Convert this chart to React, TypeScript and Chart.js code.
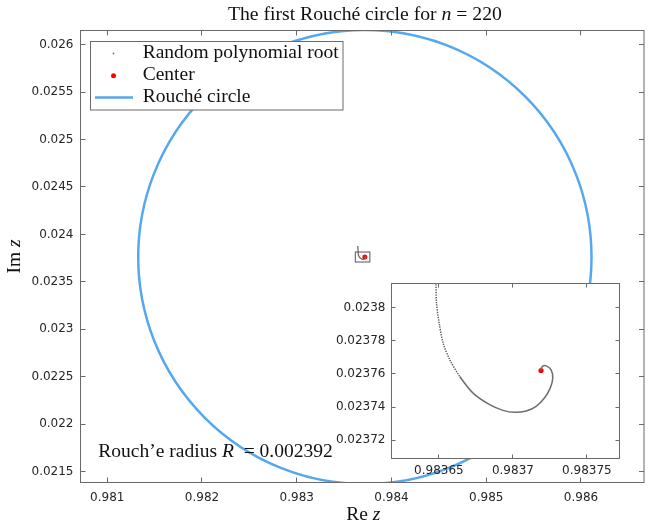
import React, { useEffect, useRef } from 'react';
import { Chart, registerables } from 'chart.js';

Chart.register(...registerables);

// ---- data ----
const rootRe = [
  0.983644, 0.983646, 0.983647, 0.983648, 0.9836484, 0.9836502, 0.9836529, 0.9836574,
  0.9836641, 0.9836731, 0.9836843, 0.9836933, 0.9837011, 0.983709, 0.9837157, 0.9837213,
  0.9837252, 0.9837269, 0.9837258, 0.9837225, 0.9837198, 0.9837186,
];
const rootIm = [
  0.023877, 0.02385, 0.02383, 0.023814, 0.0238025, 0.0237905, 0.0237784, 0.0237684,
  0.0237584, 0.0237484, 0.0237414, 0.023738, 0.0237368, 0.0237376, 0.0237404, 0.0237454,
  0.0237514, 0.0237574, 0.0237624, 0.0237648, 0.0237644, 0.0237624,
];
const sparseRootCount = 8; // the first roots are spaced apart (dotted look)
const centerRe = [0.983719];
const centerIm = [0.023762];
const roucheRadius = [0.002392];

const mainXRange = [0.980718, 0.986665];
const mainYRange = [0.021386, 0.026148];
const mainXTicks = [0.981, 0.982, 0.983, 0.984, 0.985, 0.986];
const mainXTickLabels = ['0.981', '0.982', '0.983', '0.984', '0.985', '0.986'];
const mainYTicks = [0.0215, 0.022, 0.0225, 0.023, 0.0235, 0.024, 0.0245, 0.025, 0.0255, 0.026];
const mainYTickLabels = ['0.0215', '0.022', '0.0225', '0.023', '0.0235', '0.024', '0.0245', '0.025', '0.0255', '0.026'];

const insetXRange = [0.983618, 0.983772];
const insetYRange = [0.023709, 0.0238144];
const insetXTicks = [0.98365, 0.9837, 0.98375];
const insetXTickLabels = ['0.98365', '0.9837', '0.98375'];
const insetYTicks = [0.02372, 0.02374, 0.02376, 0.02378, 0.0238];
const insetYTickLabels = ['0.02372', '0.02374', '0.02376', '0.02378', '0.0238'];

const legendLabels = ['Random polynomial root', 'Center', 'Rouché circle'];
const titleText = ['The first Rouché circle for ', 'n', ' = 220'];
const radiusText = ['Rouch’e radius ', 'R', '  = 0.002392'];

// ---- styles ----
const SERIF = '"Liberation Serif", "DejaVu Serif", serif';
const SANS = '"DejaVu Sans", sans-serif';
const AXIS = '#6a6a6a';
const TICKTEXT = '#262626';
const BLUE = '#55a7ee';
const ROOT = '#6e6e6e';
const RED = '#ff0000';

type Seg = { t: string; italic?: boolean };

function richWidth(ctx: CanvasRenderingContext2D, segs: Seg[], size: number) {
  let w = 0;
  for (const s of segs) {
    ctx.font = `${s.italic ? 'italic ' : ''}${size}px ${SERIF}`;
    w += ctx.measureText(s.t).width;
  }
  return w;
}
function fitSize(ctx: CanvasRenderingContext2D, segs: Seg[], target: number) {
  return (20 * target) / richWidth(ctx, segs, 20);
}
function drawRich(ctx: CanvasRenderingContext2D, segs: Seg[], x: number, y: number, size: number) {
  let cx = x;
  ctx.textBaseline = 'alphabetic';
  ctx.textAlign = 'left';
  for (const s of segs) {
    ctx.font = `${s.italic ? 'italic ' : ''}${size}px ${SERIF}`;
    ctx.fillText(s.t, cx, y);
    cx += ctx.measureText(s.t).width;
  }
}

function labelFor(values: number[], labels: string[]) {
  return (v: number | string) => {
    const i = values.findIndex((t) => Math.abs(t - Number(v)) < 1e-10);
    return i >= 0 ? labels[i] : '';
  };
}

function framePlugin(id: string, tl: number, xTicks: number[], yTicks: number[]) {
  return {
    id,
    afterDatasetsDraw(chart: any) {
      const { ctx, chartArea: a, scales } = chart;
      ctx.save();
      ctx.strokeStyle = AXIS;
      ctx.lineWidth = 1;
      ctx.strokeRect(a.left, a.top, a.right - a.left, a.bottom - a.top);
      ctx.beginPath();
      for (const v of xTicks) {
        const p = Math.floor(scales.x.getPixelForValue(v)) + 0.5;
        ctx.moveTo(p, a.bottom);
        ctx.lineTo(p, a.bottom - tl);
        ctx.moveTo(p, a.top);
        ctx.lineTo(p, a.top + tl);
      }
      for (const v of yTicks) {
        const p = Math.floor(scales.y.getPixelForValue(v)) + 0.5;
        ctx.moveTo(a.left, p);
        ctx.lineTo(a.left + tl, p);
        ctx.moveTo(a.right, p);
        ctx.lineTo(a.right - tl, p);
      }
      ctx.stroke();
      ctx.restore();
    },
  };
}

const circlePlugin = {
  id: 'roucheCircle',
  beforeDatasetsDraw(chart: any) {
    const { ctx, chartArea: a, scales } = chart;
    const cx = scales.x.getPixelForValue(centerRe[0]);
    const cy = scales.y.getPixelForValue(centerIm[0]);
    const rx = scales.x.getPixelForValue(centerRe[0] + roucheRadius[0]) - cx;
    const ry = cy - scales.y.getPixelForValue(centerIm[0] + roucheRadius[0]);
    ctx.save();
    ctx.beginPath();
    ctx.rect(a.left, a.top, a.right - a.left, a.bottom - a.top);
    ctx.clip();
    ctx.beginPath();
    ctx.ellipse(cx, cy, rx, ry, 0, 0, Math.PI * 2);
    ctx.strokeStyle = BLUE;
    ctx.lineWidth = 2.5;
    ctx.stroke();
    ctx.restore();
  },
};

const insetBoxPlugin = {
  id: 'insetBox',
  afterDatasetsDraw(chart: any) {
    const { ctx, scales } = chart;
    const x0 = scales.x.getPixelForValue(insetXRange[0]);
    const x1 = scales.x.getPixelForValue(insetXRange[1]);
    const y0 = scales.y.getPixelForValue(insetYRange[1]);
    const y1 = scales.y.getPixelForValue(insetYRange[0]);
    ctx.save();
    ctx.strokeStyle = '#555555';
    ctx.lineWidth = 1;
    ctx.strokeRect(x0, y0, x1 - x0, y1 - y0);
    ctx.restore();
  },
};

const annotationPlugin = {
  id: 'annotations',
  afterDraw(chart: any) {
    const { ctx, chartArea: a } = chart;
    ctx.save();
    ctx.fillStyle = '#111111';
    // title
    const tSegs: Seg[] = [{ t: titleText[0] }, { t: titleText[1], italic: true }, { t: titleText[2] }];
    const tSize = fitSize(ctx, tSegs, 274);
    drawRich(ctx, tSegs, 228, 20, tSize);

    // legend
    const lSize = fitSize(ctx, [{ t: legendLabels[0] }], 196);
    ctx.fillStyle = '#ffffff';
    ctx.fillRect(90.5, 41.5, 252.5, 68.5);
    ctx.strokeStyle = AXIS;
    ctx.lineWidth = 1;
    ctx.strokeRect(90.5, 41.5, 252.5, 68.5);
    const rows = [58.3, 80, 101.7];
    ctx.fillStyle = ROOT;
    ctx.beginPath();
    ctx.arc(113.5, 53.5, 0.9, 0, Math.PI * 2);
    ctx.fill();
    ctx.fillStyle = RED;
    ctx.beginPath();
    ctx.arc(113.5, 75.8, 2.5, 0, Math.PI * 2);
    ctx.fill();
    ctx.strokeStyle = BLUE;
    ctx.lineWidth = 2.5;
    ctx.beginPath();
    ctx.moveTo(95, 97.5);
    ctx.lineTo(133, 97.5);
    ctx.stroke();
    ctx.fillStyle = '#111111';
    legendLabels.forEach((l, i) => drawRich(ctx, [{ t: l }], 142.7, rows[i], lSize));

    // radius annotation
    const rSegs: Seg[] = [{ t: radiusText[0] }, { t: radiusText[1], italic: true }, { t: radiusText[2] }];
    const rSize = fitSize(ctx, rSegs, 234.7);
    drawRich(ctx, rSegs, 98.3, 456.7, rSize);

    // axis titles
    const xSegs: Seg[] = [{ t: 'Re ' }, { t: 'z', italic: true }];
    const xw = richWidth(ctx, xSegs, lSize);
    drawRich(ctx, xSegs, (a.left + a.right) / 2 - xw / 2 + 1, 520, lSize);
    const ySegs: Seg[] = [{ t: 'Im ' }, { t: 'z', italic: true }];
    const yw = richWidth(ctx, ySegs, lSize);
    ctx.translate(20, (a.top + a.bottom) / 2);
    ctx.rotate(-Math.PI / 2);
    drawRich(ctx, ySegs, -yw / 2, 0, lSize);
    ctx.restore();
  },
};

const insetBgPlugin = {
  id: 'insetBg',
  beforeDatasetsDraw(chart: any) {
    const { ctx, chartArea: a } = chart;
    ctx.save();
    ctx.fillStyle = '#ffffff';
    ctx.fillRect(a.left, a.top, a.right - a.left, a.bottom - a.top);
    ctx.restore();
  },
};

function axisOptions(
  range: number[],
  ticks: number[],
  labels: string[],
  horizontal: boolean,
  size: number,
  padding: number,
) {
  return {
    type: 'linear' as const,
    position: horizontal ? ('bottom' as const) : ('left' as const),
    min: range[0],
    max: range[1],
    grid: { display: false, drawTicks: false },
    border: { display: false },
    ticks: {
      padding,
      autoSkip: false,
      maxRotation: 0,
      minRotation: 0,
      color: TICKTEXT,
      font: { family: SANS, size: 12 },
      callback: labelFor(ticks, labels),
    },
    afterBuildTicks: (s: any) => {
      s.ticks = ticks.map((v) => ({ value: v }));
    },
    afterFit: (s: any) => {
      if (horizontal) {
        s.height = size;
        s.paddingLeft = 0;
        s.paddingRight = 0;
      } else {
        s.width = size;
        s.paddingTop = 0;
        s.paddingBottom = 0;
      }
    },
  };
}

export default function App() {
  const mainRef = useRef<HTMLCanvasElement | null>(null);
  const insetRef = useRef<HTMLCanvasElement | null>(null);

  useEffect(() => {
    const roots = rootRe.map((x, i) => ({ x, y: rootIm[i] }));
    const center = centerRe.map((x, i) => ({ x, y: centerIm[i] }));

    const main = new Chart(mainRef.current as HTMLCanvasElement, {
      type: 'scatter',
      data: {
        datasets: [
          {
            label: legendLabels[0],
            data: roots,
            showLine: true,
            borderColor: ROOT,
            borderWidth: 1.3,
            pointRadius: 0,
            tension: 0.3,
          },
          {
            label: legendLabels[1],
            data: center,
            pointRadius: 2.5,
            pointBackgroundColor: RED,
            pointBorderWidth: 0,
          },
        ],
      },
      options: {
        responsive: false,
        animation: false,
        events: [],
        layout: { padding: { left: 0, right: 2.5, top: 30.5, bottom: 0 } },
        plugins: { legend: { display: false }, tooltip: { enabled: false } },
        scales: {
          x: axisOptions(mainXRange, mainXTicks, mainXTickLabels, true, 40.5, 8),
          y: axisOptions(mainYRange, mainYTicks, mainYTickLabels, false, 80.5, 7),
        },
      } as any,
      plugins: [circlePlugin, insetBoxPlugin, framePlugin('mainFrame', 5, mainXTicks, mainYTicks), annotationPlugin],
    });

    const inset = new Chart(insetRef.current as HTMLCanvasElement, {
      type: 'scatter',
      data: {
        datasets: [
          {
            label: legendLabels[0],
            data: roots,
            showLine: true,
            borderColor: ROOT,
            borderWidth: 1.4,
            pointRadius: 0,
            tension: 0.3,
            clip: 0,
            segment: {
              borderDash: (c: any) => (c.p0DataIndex < sparseRootCount ? [1.3, 1.2] : undefined),
              borderWidth: (c: any) => (c.p0DataIndex < sparseRootCount ? 1.5 : 1.5),
              borderColor: (c: any) => (c.p0DataIndex < sparseRootCount ? '#5a5a5a' : ROOT),
            },
          },
          {
            label: legendLabels[1],
            data: center,
            pointRadius: 2.6,
            pointBackgroundColor: RED,
            pointBorderWidth: 0,
          },
        ],
      },
      options: {
        responsive: false,
        animation: false,
        events: [],
        layout: { padding: { left: 0, right: 10.5, top: 13.5, bottom: 0 } },
        plugins: { legend: { display: false }, tooltip: { enabled: false } },
        scales: {
          x: axisOptions(insetXRange, insetXTicks, insetXTickLabels, true, 26.5, 5),
          y: axisOptions(insetYRange, insetYTicks, insetYTickLabels, false, 61.5, 6),
        },
      } as any,
      plugins: [insetBgPlugin, framePlugin('insetFrame', 4, insetXTicks, insetYTicks)],
    });

    return () => {
      main.destroy();
      inset.destroy();
    };
  }, []);

  return (
    <div style={{ position: 'fixed', left: 0, top: 0, width: 648, height: 523, background: '#ffffff' }}>
      <canvas ref={mainRef} width={648} height={523} style={{ position: 'absolute', left: 0, top: 0, display: 'block' }} />
      <canvas ref={insetRef} width={300} height={215} style={{ position: 'absolute', left: 330, top: 270, display: 'block' }} />
    </div>
  );
}
